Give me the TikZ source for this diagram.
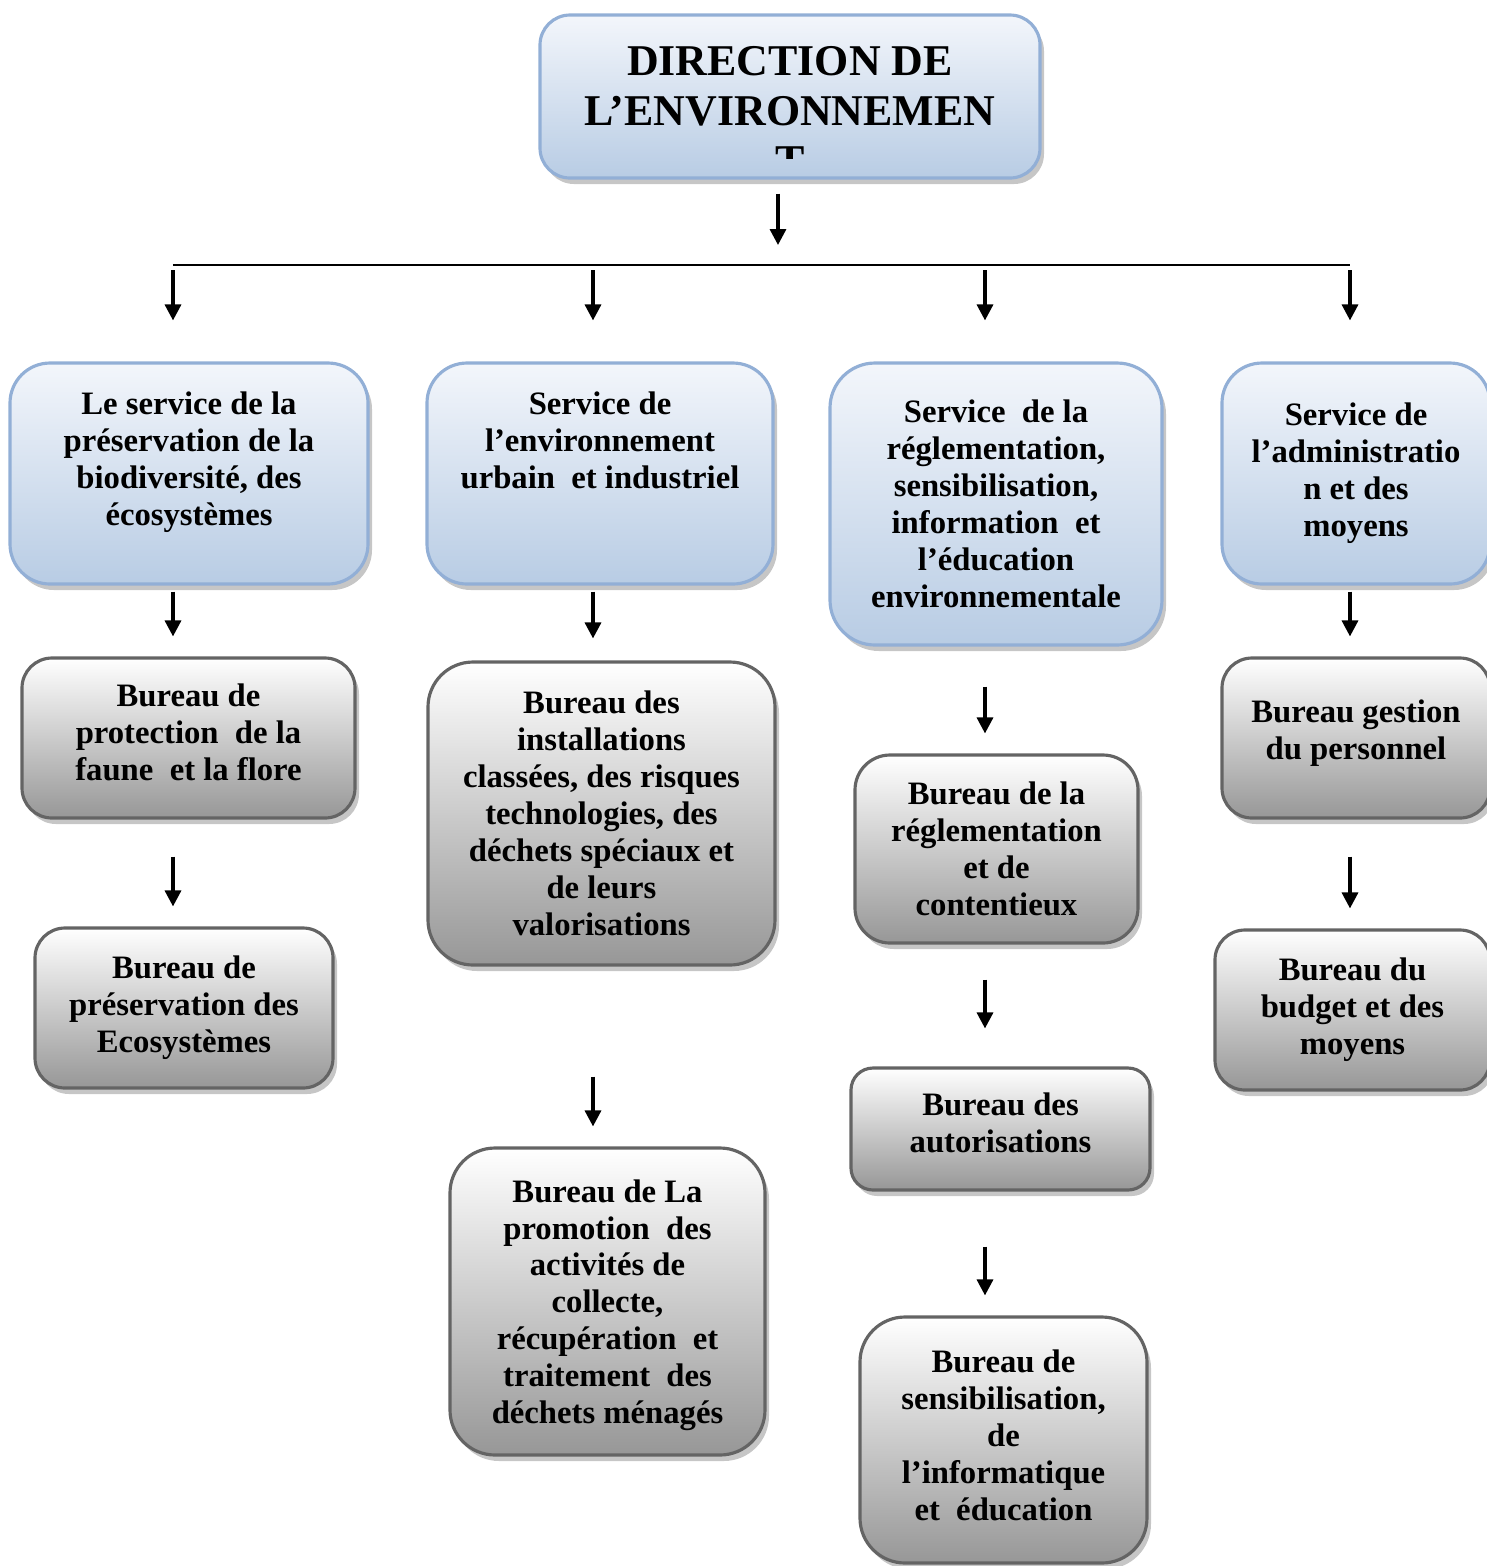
\documentclass[tikz,border=0pt]{standalone}
\usepackage{fontspec}
\setmainfont{Liberation Serif}
\usepackage{tikz}
\usetikzlibrary{shadows, arrows.meta, calc}

\newcommand{\policecase}{\fontsize{9.3}{10.5}\selectfont\bfseries}
\newcommand{\policetitre}{\fontsize{12.5}{14.2}\selectfont\bfseries}

\begin{document}
\begin{tikzpicture}[
  service/.style={draw=bleubord, line width=0.9pt, rounded corners=4mm,
    top color=bleuhaut, bottom color=bleubas,
    drop shadow={opacity=0.45, shadow xshift=0.4mm, shadow yshift=-0.6mm},
    align=center, font=\policecase, inner sep=0pt},
  bureau/.style={draw=grisbord, line width=0.9pt, rounded corners=3mm,
    top color=white, bottom color=grisbas,
    drop shadow={opacity=0.45, shadow xshift=0.4mm, shadow yshift=-0.6mm},
    align=center, font=\policecase, inner sep=0pt},
  fleche/.style={-{Triangle[length=1.6mm, width=1.6mm]}, line width=0.95pt},
]
% --- ORGANIGRAMME : COULEURS ---
\definecolor{bleuhaut}{HTML}{F3F6FB}
\definecolor{bleubas}{HTML}{B8CCE4}
\definecolor{bleubord}{HTML}{92AFD6}
\definecolor{grisbas}{HTML}{979797}
\definecolor{grisbord}{HTML}{646464}

\useasboundingbox (0,0) rectangle (14.87,-15.66);

% LAYER 1: Direction
\node[service, rounded corners=3mm, minimum width=5cm, minimum height=1.63cm] (dir) at (7.90,-0.965) {};
\begin{scope}
  \clip (5.40,-0.10) rectangle (10.40,-1.58);
  \node[align=center, font=\policetitre, inner sep=0pt] (titre) at (7.90,-1.11) {DIRECTION DE\\L'ENVIRONNEMEN\\T};
\end{scope}

% LAYER 2: Barre de distribution
\coordinate (mil) at (7.78,-2.65);
\coordinate (c1) at (1.73,-2.65);
\coordinate (c2) at (5.93,-2.65);
\coordinate (c3) at (9.85,-2.65);
\coordinate (c4) at (13.50,-2.65);
\draw[fleche] ([yshift=-1.4mm]dir.south -| mil) -- ([yshift=2mm]mil);
\draw[line width=0.6pt] (c1) -- (c4);

% LAYER 3: Services
\node[service, minimum width=3.58cm, minimum height=2.21cm, text depth=0.3cm] (serv1) at (1.89,-4.735)
  {Le service de la\\préservation de la\\biodiversité, des\\écosystèmes};
\node[service, minimum width=3.46cm, minimum height=2.21cm, text depth=0.66cm] (serv2) at (6.00,-4.735)
  {Service de\\l'environnement\\urbain\ \ et industriel};
\node[service, rounded corners=4.5mm, minimum width=3.32cm, minimum height=2.82cm] (serv3) at (9.96,-5.04)
  {Service\ \ de la\\réglementation,\\sensibilisation,\\information\ \ et\\l'éducation\\environnementale};
\node[service, minimum width=2.68cm, minimum height=2.21cm] (serv4) at (13.56,-4.735)
  {Service de\\l'administratio\\n et des\\moyens};

\foreach \c/\s in {c1/serv1, c2/serv2, c3/serv3, c4/serv4}
  \draw[fleche] ([yshift=-0.5mm]\c) -- ([yshift=4.1mm]\s.north -| \c);

% LAYER 4: Bureaux
\node[bureau, minimum width=3.33cm, minimum height=1.60cm, text depth=0.12cm] (bur1a) at (1.885,-7.38)
  {Bureau de\\protection\ \ de la\\faune\ \ et la flore};
\node[bureau, minimum width=2.98cm, minimum height=1.60cm] (bur1b) at (1.84,-10.08)
  {Bureau de\\préservation des\\Ecosystèmes};
\node[bureau, rounded corners=4.5mm, minimum width=3.47cm, minimum height=3.03cm] (bur2a) at (6.015,-8.135)
  {Bureau des\\installations\\classées, des risques\\technologies, des\\déchets spéciaux et\\de leurs\\valorisations};
\node[bureau, rounded corners=4.5mm, minimum width=3.15cm, minimum height=3.07cm, text depth=0cm] (bur2b) at (6.075,-13.015)
  {Bureau de La\\promotion\ \ des\\activités de\\collecte,\\récupération\ \ et\\traitement\ \ des\\déchets ménagés};
\node[bureau, rounded corners=3.5mm, minimum width=2.83cm, minimum height=1.88cm] (bur3a) at (9.965,-8.49)
  {Bureau de la\\réglementation\\et de\\contentieux};
\node[bureau, rounded corners=2.2mm, minimum width=2.99cm, minimum height=1.22cm, text depth=0.12cm] (bur3b) at (10.005,-11.29)
  {Bureau des\\autorisations};
\node[bureau, rounded corners=4.5mm, minimum width=2.87cm, minimum height=2.46cm, text depth=0.1cm] (bur3c) at (10.035,-14.40)
  {Bureau de\\sensibilisation,\\de\\l'informatique\\et\ \ éducation};
\node[bureau, minimum width=2.68cm, minimum height=1.60cm, text depth=0.16cm] (bur4a) at (13.56,-7.38)
  {Bureau gestion\\du personnel};
\node[bureau, minimum width=2.75cm, minimum height=1.60cm] (bur4b) at (13.525,-10.10)
  {Bureau du\\budget et des\\moyens};

% LAYER 5: Fleches entre services et bureaux
\draw[fleche] ([yshift=-0.6mm]serv1.south -| c1) -- ([yshift=2mm]bur1a.north -| c1);
\draw[fleche] ([yshift=-0.6mm]serv2.south -| c2) -- ([yshift=2.2mm]bur2a.north -| c2);
\draw[fleche] ([yshift=-4mm]serv3.south -| c3) -- ([yshift=2mm]bur3a.north -| c3);
\draw[fleche] ([yshift=-0.6mm]serv4.south -| c4) -- ([yshift=2mm]bur4a.north -| c4);
\draw[fleche] ([yshift=-3.7mm]bur1a.south -| c1) -- ([yshift=2mm]bur1b.north -| c1);
\draw[fleche] ([yshift=-11mm]bur2a.south -| c2) -- ([yshift=2mm]bur2b.north -| c2);
\draw[fleche] ([yshift=-3.5mm]bur3a.south -| c3) -- ([yshift=3.8mm]bur3b.north -| c3);
\draw[fleche] ([yshift=-5.5mm]bur3b.south -| c3) -- ([yshift=2mm]bur3c.north -| c3);
\draw[fleche] ([yshift=-3.7mm]bur4a.south -| c4) -- ([yshift=2mm]bur4b.north -| c4);
\end{tikzpicture}
\end{document}
